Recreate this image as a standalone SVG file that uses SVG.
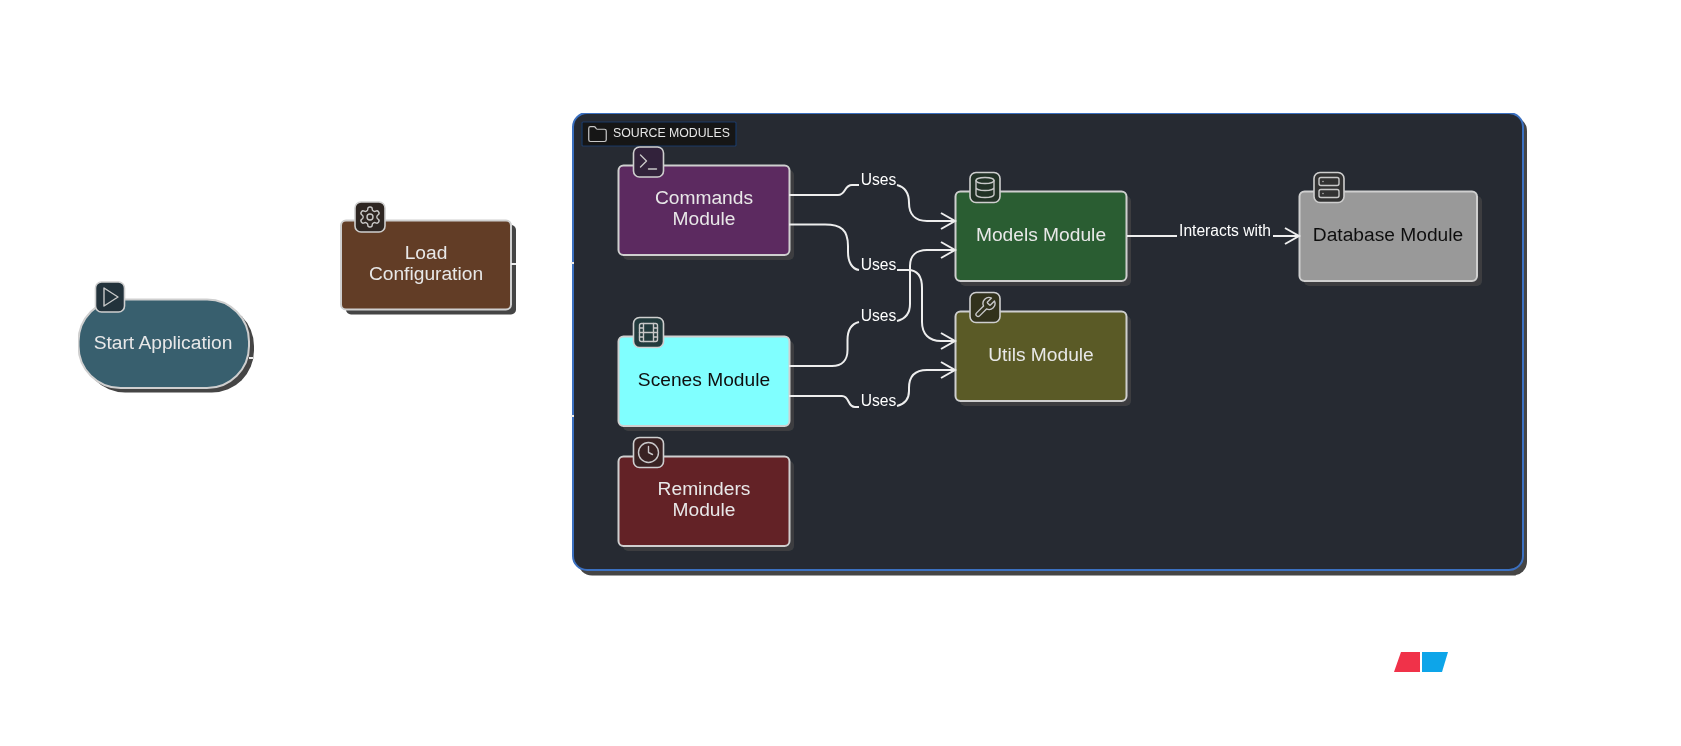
<svg xmlns="http://www.w3.org/2000/svg" width="1681" height="746" viewBox="0 0 1681 746">
<style>
text{font-family:"Liberation Sans",Arial,sans-serif}
.n{stroke:#cfcfcf;stroke-width:2}
.nt{font-size:19.2px;fill:#e8e8e8;text-anchor:middle}
.dk{fill:#111111}
.sd{fill:#3c3e41}
.sw{fill:#444444}
.ib{stroke:#cfcfcf;stroke-width:1.6}
.ic{fill:none;stroke:#c8c8c8;stroke-width:1.4;stroke-linecap:round;stroke-linejoin:round}
.e{fill:none;stroke:#eeeeee;stroke-width:2}
.el{font-size:15.6px;fill:#ffffff;text-anchor:middle}
</style>
<defs>
<filter id="soft" x="0" y="0" width="1" height="1"><feGaussianBlur stdDeviation="0.35"/></filter>
<marker id="arr" markerUnits="userSpaceOnUse" markerWidth="18" markerHeight="20" refX="15" refY="9" orient="auto" viewBox="0 0 18 20"><path d="M1 1L15 9L1 17" fill="none" stroke="#eeeeee" stroke-width="2"/></marker>
<symbol id="i-play" viewBox="0 0 24 24"><polygon class="ic" points="6,3 20,12 6,21"/></symbol>
<symbol id="i-gear" viewBox="0 0 24 24"><path class="ic" d="M12.22 2h-.44a2 2 0 0 0-2 2v.18a2 2 0 0 1-1 1.73l-.43.25a2 2 0 0 1-2 0l-.15-.08a2 2 0 0 0-2.73.73l-.22.38a2 2 0 0 0 .73 2.73l.15.1a2 2 0 0 1 1 1.72v.51a2 2 0 0 1-1 1.74l-.15.09a2 2 0 0 0-.73 2.73l.22.38a2 2 0 0 0 2.73.73l.15-.08a2 2 0 0 1 2 0l.43.25a2 2 0 0 1 1 1.73V20a2 2 0 0 0 2 2h.44a2 2 0 0 0 2-2v-.18a2 2 0 0 1 1-1.73l.43-.25a2 2 0 0 1 2 0l.15.08a2 2 0 0 0 2.73-.73l.22-.39a2 2 0 0 0-.73-2.73l-.15-.08a2 2 0 0 1-1-1.74v-.5a2 2 0 0 1 1-1.74l.15-.09a2 2 0 0 0 .73-2.73l-.22-.38a2 2 0 0 0-2.73-.73l-.15.08a2 2 0 0 1-2 0l-.43-.25a2 2 0 0 1-1-1.73V4a2 2 0 0 0-2-2z"/><circle class="ic" cx="12" cy="12" r="3"/></symbol>
<symbol id="i-term" viewBox="0 0 24 24"><path class="ic" d="M4 17L10 11L4 5M12 19H20"/></symbol>
<symbol id="i-db" viewBox="0 0 24 24"><ellipse class="ic" cx="12" cy="5" rx="9" ry="3"/><path class="ic" d="M3 5V19A9 3 0 0 0 21 19V5M3 12A9 3 0 0 0 21 12"/></symbol>
<symbol id="i-server" viewBox="0 0 24 24"><rect class="ic" x="2" y="2" width="20" height="8" rx="2"/><rect class="ic" x="2" y="14" width="20" height="8" rx="2"/><path class="ic" d="M6 6h.01M6 18h.01"/></symbol>
<symbol id="i-film" viewBox="0 0 24 24"><rect class="ic" x="3" y="3" width="18" height="18" rx="2"/><path class="ic" d="M7 3V21M17 3V21M3 12H21M3 7.5H7M3 16.5H7M17 7.5H21M17 16.5H21"/></symbol>
<symbol id="i-clock" viewBox="0 0 24 24"><circle class="ic" cx="12" cy="12" r="10"/><path class="ic" d="M12 6V12L16 14"/></symbol>
<symbol id="i-wrench" viewBox="0 0 24 24"><path class="ic" d="M14.7 6.3a1 1 0 0 0 0 1.4l1.6 1.6a1 1 0 0 0 1.4 0l3.77-3.77a6 6 0 0 1-7.94 7.94l-6.91 6.91a2.12 2.12 0 0 1-3-3l6.91-6.91a6 6 0 0 1 7.94-7.94l-3.76 3.76z"/></symbol>
<symbol id="i-folder" viewBox="0 0 24 24"><path class="ic" d="M20 20a2 2 0 0 0 2-2V8a2 2 0 0 0-2-2h-7.9a2 2 0 0 1-1.69-.9L9.6 3.9A2 2 0 0 0 7.93 3H4a2 2 0 0 0-2 2v13a2 2 0 0 0 2 2Z"/></symbol>
</defs>
<rect width="1681" height="746" fill="#ffffff"/>
<g filter="url(#soft)">

<g id="start">
<rect class="sw" x="83" y="304" width="171" height="88.500" rx="42"/>
<rect class="n" x="78.500" y="299.500" width="170.500" height="88.500" rx="42" fill="#375e6e"/>
<rect class="ib" x="95.500" y="282" width="29" height="30" rx="6" fill="#20313a"/>
<use href="#i-play" x="98" y="285" width="24" height="24"/>
<text class="nt" x="163" y="349">Start Application</text>
</g>

<g id="load">
<rect class="sw" x="346" y="225" width="170" height="89.500" rx="5"/>
<rect class="n" x="341" y="220.500" width="170" height="89" rx="5" fill="#623e27"/>
<rect class="ib" x="355" y="202" width="30" height="30" rx="6" fill="#2f2620"/>
<use href="#i-gear" x="358" y="205" width="24" height="24"/>
<text class="nt" x="426" y="259">Load</text>
<text class="nt" x="426" y="280">Configuration</text>
</g>

<g id="source-modules">
<rect class="sw" x="578" y="117" width="949" height="458.500" rx="14"/>
<rect x="573" y="113" width="950" height="457" rx="14" fill="#252a32" stroke="#3b6fc0" stroke-width="2"/>
<rect x="582" y="122" width="154" height="24" rx="1" fill="#151515" stroke="#1d3a66" stroke-width="1.200"/>
<use href="#i-folder" x="587" y="124" width="21" height="21"/>
<text x="613" y="137" font-size="12.300" fill="#e8e8e8">SOURCE MODULES</text>
</g>

<g id="commands">
<rect class="sd" x="623" y="170" width="171" height="90" rx="5"/>
<rect class="n" x="618.500" y="165.500" width="171" height="89.500" rx="5" fill="#5c2a60"/>
<rect class="ib" x="633.500" y="147" width="30" height="30" rx="6" fill="#33223a"/>
<use href="#i-term" x="636.500" y="150" width="24" height="24"/>
<text class="nt" x="704" y="204">Commands</text>
<text class="nt" x="704" y="225">Module</text>
</g>

<g id="models">
<rect class="sd" x="960" y="196" width="171" height="90" rx="5"/>
<rect class="n" x="955.500" y="191.500" width="171" height="89.500" rx="5" fill="#2c5d33"/>
<rect class="ib" x="970" y="172.500" width="30" height="30" rx="6" fill="#223327"/>
<use href="#i-db" x="973" y="175.500" width="24" height="24"/>
<text class="nt" x="1041" y="241">Models Module</text>
</g>

<g id="database">
<rect class="sd" x="1304" y="196" width="178" height="90" rx="5"/>
<rect class="n" x="1299.500" y="191.500" width="177.500" height="89.500" rx="5" fill="#999999"/>
<rect class="ib" x="1314" y="172.500" width="30" height="30" rx="6" fill="#333333"/>
<use href="#i-server" x="1317" y="175.500" width="24" height="24"/>
<text class="nt dk" x="1388" y="241">Database Module</text>
</g>

<g id="utils">
<rect class="sd" x="960" y="316" width="171" height="90" rx="5"/>
<rect class="n" x="955.500" y="311.500" width="171" height="89.500" rx="5" fill="#5a5a26"/>
<rect class="ib" x="970" y="292.500" width="30" height="30" rx="6" fill="#31311f"/>
<use href="#i-wrench" x="973" y="295.500" width="24" height="24"/>
<text class="nt" x="1041" y="361">Utils Module</text>
</g>

<g id="scenes">
<rect class="sd" x="623" y="341" width="171" height="90" rx="5"/>
<rect class="n" x="618.500" y="336.500" width="171" height="89.500" rx="5" fill="#80ffff"/>
<rect class="ib" x="633.500" y="317.500" width="30" height="30" rx="6" fill="#233a3c"/>
<use href="#i-film" x="636.500" y="320.500" width="24" height="24"/>
<text class="nt dk" x="704" y="386">Scenes Module</text>
</g>

<g id="reminders">
<rect class="sd" x="623" y="461" width="171" height="90" rx="5"/>
<rect class="n" x="618.500" y="456.500" width="171" height="89.500" rx="5" fill="#632227"/>
<rect class="ib" x="633.500" y="437.500" width="30" height="30" rx="6" fill="#382024"/>
<use href="#i-clock" x="636.500" y="440.500" width="24" height="24"/>
<text class="nt" x="704" y="495">Reminders</text>
<text class="nt" x="704" y="516">Module</text>
</g>

<g id="connectors">
<path class="e" d="M249 358H253M511 264H516M571 263H574M571 416H574"/>
<path class="e" marker-end="url(#arr)" d="M789 195H838C846 195 844 185 852 185H859M897 185C905 187 909 194 909 203C909 214 915 221 927 221H955"/>
<path class="e" marker-end="url(#arr)" d="M789 224.500H825C841 224.500 848 230 848 246V252C848 262 852 269 859 270M897 270H908C917 270 922 276 922 288V322C922 334 929 341 941 341H955"/>
<path class="e" marker-end="url(#arr)" d="M789 366H832C842 366 847.500 360 847.500 350V340C847.500 330 851 324 859 322M897 321C905 319 910 314 910 304V266C910 256 916 250 927 250H955"/>
<path class="e" marker-end="url(#arr)" d="M789 396H842C850 396 847 407 855 407H859M897 406C905 404 909 399 909 391V388C909 376 915 370 927 370H955"/>
<path class="e" marker-end="url(#arr)" d="M1127 236H1177M1273 236H1299"/>
<text class="el" x="878.500" y="185">Uses</text>
<text class="el" x="878.500" y="270">Uses</text>
<text class="el" x="878.500" y="321">Uses</text>
<text class="el" x="878.500" y="406">Uses</text>
<text class="el" x="1225" y="236">Interacts with</text>
</g>

<g id="logo">
<polygon points="1401,652 1420,652 1420,672 1394,672" fill="#f0304a"/>
<polygon points="1422,652 1448,652 1442,672 1422,672" fill="#0ba5e9"/>
</g>
</g>
</svg>
